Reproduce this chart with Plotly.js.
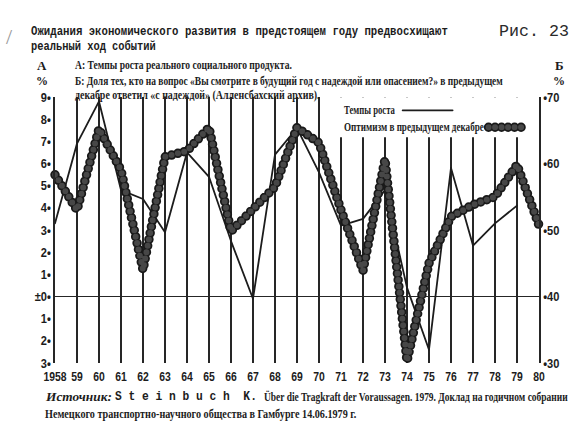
<!DOCTYPE html>
<html>
<head>
<meta charset="utf-8">
<script src="https://cdn.plot.ly/plotly-3.0.1.min.js"></script>
<style>
  html, body { margin: 0; padding: 0; background: #ffffff; }
  #chart { width: 579px; height: 434px; }
  /* round caps turn the zero-length dashes into beads */
  #chart .js-line, #chart .shapelayer path { stroke-linecap: round !important; stroke-linejoin: round !important; }
  /* let the beads at the ends of the series show in full */
  #chart .cartesianlayer [clip-path], #chart .plot { clip-path: none !important; }
</style>
</head>
<body>
<div id="chart"></div>
<script>
// ---- data -------------------------------------------------------------
const years = [1958, 1959, 1960, 1961, 1962, 1963, 1964, 1965, 1966, 1967, 1968, 1969,
               1970, 1971, 1972, 1973, 1974, 1975, 1976, 1977, 1978, 1979, 1980];
const yearLabels = ['1958', '59', '60', '61', '62', '63', '64', '65', '66', '67', '68', '69',
                    '70', '71', '72', '73', '74', '75', '76', '77', '78', '79', '80'];

// A: real growth of the social product, % (left axis), 1958–1979
const growthYears = [1958, 1959, 1960, 1961, 1962, 1963, 1964, 1965, 1966, 1967, 1968,
                     1969, 1970, 1971, 1972, 1973, 1974, 1975, 1976, 1977, 1978, 1979];
const growthRate = [3.3, 6.9, 8.8, 4.8, 4.4, 2.9, 6.5, 5.4, 2.5, -0.1, 6.4,
                    7.6, 5.6, 3.2, 3.5, 4.8, 0.4, -2.4, 5.8, 2.3, 3.3, 4.1];

// Б: share answering "with hope" in the previous December, % (right axis), 1958–1980
const optimism = [58.3, 53.0, 65.2, 59.0, 44.0, 61.0, 61.9, 65.4, 49.8, 53.2, 56.5, 65.4,
                  63.1, 53.0, 43.9, 60.6, 30.3, 45.0, 52.0, 53.8, 55.0, 59.8, 50.7];

// axis ticks
const leftTicks = [-3, -2, -1, 0, 1, 2, 3, 4, 5, 6, 7, 8, 9];
const leftTickText = ['3•', '2•', '1•', '±0•', '1•', '2•', '3•', '4•', '5•', '6•', '7•', '8•', '9•'];
const rightTicks = [30, 40, 50, 60, 70];
const rightTickText = ['•30', '•40', '•50', '•60', '•70'];

// ---- geometry helpers ---------------------------------------------------
const W = 579, H = 434;
const M = { l: 55, r: 39.5, t: 96.7, b: 71 };
const PW = W - M.l - M.r, PH = H - M.t - M.b;
const px = x => (x - M.l) / PW;
const py = y => (H - M.b - y) / PH;

const INK = '#1c1c1c';
const MONO = 'Liberation Mono, DejaVu Sans Mono, monospace';
const SERIF = 'Liberation Serif, DejaVu Serif, serif';
const SANS = 'Liberation Sans, Arial, sans-serif';

// text blocks: [text, x, y, typeset width, font, anchor]
const notes = [
  ['Ожидания экономического развития в предстоящем году предвосхищают', 29, 31.5, 417, { family: MONO, size: 12, weight: 'bold' }],
  ['реальный ход событий', 29, 46.5, 125, { family: MONO, size: 12, weight: 'bold' }],
  ['Рис. 23', 497, 31, 70, { family: MONO, size: 17, color: '#2a2a2a' }],
  ['А', 42, 65, 0, { family: SERIF, size: 13, weight: 'bold' }, 'center'],
  ['%', 42, 81, 0, { family: SERIF, size: 12, weight: 'bold' }, 'center'],
  ['Б', 560, 65, 0, { family: SERIF, size: 13, weight: 'bold' }, 'center'],
  ['%', 560, 81, 0, { family: SERIF, size: 12, weight: 'bold' }, 'center'],
  ['А: Темпы роста реального социального продукта.', 73, 65, 217, { family: SERIF, size: 12.5, weight: 'bold' }],
  ['Б: Доля тех, кто на вопрос «Вы смотрите в будущий год с надеждой или опасением?» в предыдущем', 73, 81, 428, { family: SERIF, size: 12.5, weight: 'bold' }],
  ['декабре ответил «с надеждой» (Алленсбахский архив).', 73, 95, 245, { family: SERIF, size: 12.5, weight: 'bold' }],
  ['Темпы роста', 342, 110, 51, { family: SERIF, size: 12.5, weight: 'bold' }],
  ['Оптимизм в предыдущем декабре', 342, 127, 140, { family: SERIF, size: 12.5, weight: 'bold' }],
  ['Источник:', 43, 397, 66, { family: SERIF, size: 13, weight: 'bold', style: 'italic' }],
  ['S t e i n b u c h  K.', 113, 397, 142, { family: MONO, size: 13, weight: 'bold' }],
  ['Über die Tragkraft der Voraussagen. 1979. Доклад на годичном собрании', 262, 397, 304, { family: SERIF, size: 12.5, weight: 'bold' }],
  ['Немецкого транспортно-научного общества в Гамбурге 14.06.1979 г.', 43, 414, 312, { family: SERIF, size: 12.5, weight: 'bold' }],
  ['/', 4, 36, 0, { family: SERIF, size: 22, color: '#9a9a9a' }]
];

const annotations = notes.map(([text, x, y, w, font, anchor]) => ({
  text, xref: 'paper', yref: 'paper', x: px(x), y: py(y),
  xanchor: anchor || 'left', yanchor: 'middle', align: anchor || 'left',
  showarrow: false, font: Object.assign({ color: INK }, font)
}));

// bead style for the optimism series: dark rim, softer core
const BEAD_GAP = '0px,6.5px';
const rim = { color: '#191919', width: 9.5, dash: BEAD_GAP };
const core = { color: '#474747', width: 6, dash: BEAD_GAP };

// legend panel and its samples
const shapes = [
  { type: 'rect', xref: 'paper', yref: 'paper', x0: px(336), x1: px(531), y0: py(97), y1: py(137),
    fillcolor: '#ffffff', line: { width: 0 }, layer: 'above' },
  { type: 'line', xref: 'paper', yref: 'paper', x0: px(403), x1: px(453), y0: py(110), y1: py(110),
    line: { color: INK, width: 1.8 }, layer: 'above' },
  { type: 'line', xref: 'paper', yref: 'paper', x0: px(489), x1: px(528), y0: py(127), y1: py(127),
    line: rim, layer: 'above' },
  { type: 'line', xref: 'paper', yref: 'paper', x0: px(489), x1: px(528), y0: py(127), y1: py(127),
    line: core, layer: 'above' }
];

const data = [
  { x: growthYears, y: growthRate, yaxis: 'y', type: 'scatter', mode: 'lines',
    line: { color: INK, width: 1.8 }, showlegend: false, hoverinfo: 'skip' },
  { x: years, y: optimism, yaxis: 'y2', type: 'scatter', mode: 'lines',
    line: rim, showlegend: false, hoverinfo: 'skip' },
  { x: years, y: optimism, yaxis: 'y2', type: 'scatter', mode: 'lines',
    line: core, showlegend: false, hoverinfo: 'skip' }
];

const tickFont = { family: SANS, size: 13, color: INK, weight: 'bold' };

const layout = {
  width: W, height: H,
  margin: M,
  paper_bgcolor: '#ffffff', plot_bgcolor: '#ffffff',
  showlegend: false,
  xaxis: {
    range: [1958, 1980], tickmode: 'array', tickvals: years, ticktext: yearLabels,
    showgrid: true, gridcolor: '#262626', gridwidth: 1.6,
    zeroline: false, showline: false, ticks: '', tickfont: tickFont, tickangle: 0,
    ticklabelstandoff: 4
  },
  yaxis: {
    range: [-3, 9], tickmode: 'array', tickvals: leftTicks, ticktext: leftTickText,
    showgrid: false, zeroline: true, zerolinecolor: '#262626', zerolinewidth: 1.4,
    showline: true, linecolor: '#262626', linewidth: 1.6, ticks: '', tickfont: tickFont
  },
  yaxis2: {
    range: [30, 70], overlaying: 'y', side: 'right', tickmode: 'array',
    tickvals: rightTicks, ticktext: rightTickText,
    showgrid: false, zeroline: false, showline: true, linecolor: '#262626', linewidth: 1.6,
    ticks: '', tickfont: tickFont
  },
  annotations, shapes
};

// narrow a text element horizontally about its own anchor point
function squeeze(t, width) {
  const natural = t.getComputedTextLength();
  if (!natural) return;
  const sx = width / natural;
  const x0 = parseFloat(t.getAttribute('x')) || 0;
  const prev = t.getAttribute('transform') || '';
  t.setAttribute('transform', prev + ' translate(' + x0 + ',0) scale(' + sx + ',1) translate(' + (-x0) + ',0)');
}

const el = document.getElementById('chart');
Plotly.newPlot(el, data, layout, { staticPlot: true, displayModeBar: false }).then(() => {
  // set each line of text to its typeset width
  notes.forEach((n, i) => {
    const w = n[3];
    if (!w) return;
    const g = el.querySelector('g.annotation[data-index="' + i + '"]');
    if (!g) return;
    const t = g.querySelector('text.annotation-text');
    if (t) squeeze(t, w);
    const bg = g.querySelector('rect.bg');
    if (bg) bg.setAttribute('width', w + 2);
  });
  // condensed figures on the axes
  el.querySelectorAll('.xtick text').forEach(t => squeeze(t, t.getComputedTextLength() * 0.8));
  el.querySelectorAll('.ytick text, .y2tick text').forEach(t => squeeze(t, t.getComputedTextLength() * 0.85));
});
</script>
</body>
</html>
